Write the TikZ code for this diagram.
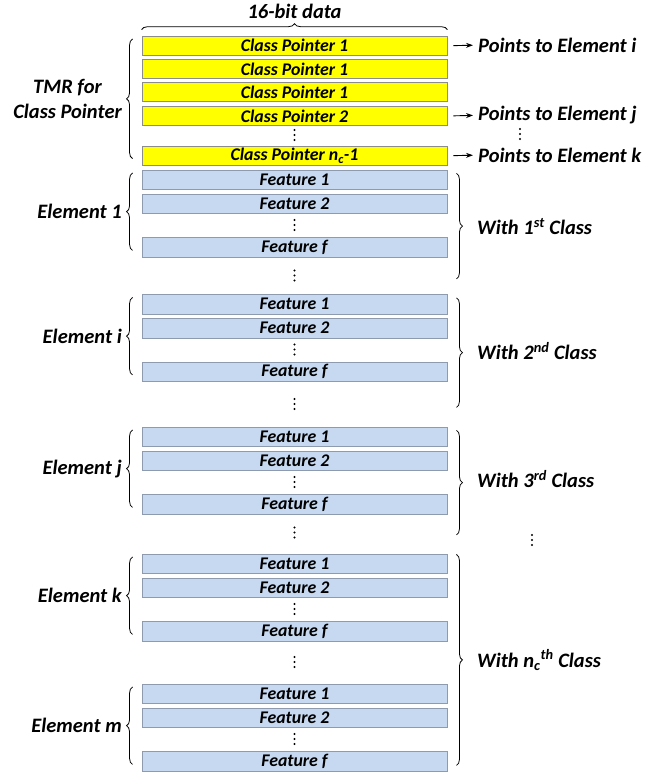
\documentclass[tikz,border=0pt]{standalone}
\usepackage{fontspec}
\setmainfont{Carlito}
\usetikzlibrary{decorations.pathreplacing,arrows.meta,calc}
\definecolor{ptrfill}{HTML}{FFFF00}
\definecolor{ptrline}{HTML}{8C8C8C}
\definecolor{featfill}{HTML}{C6D9F1}
\definecolor{featline}{HTML}{8E9BAE}
\begin{document}
\begin{tikzpicture}[x=1pt,y=-1pt,
  bigtxt/.style={font=\fontsize{20.5}{24}\selectfont\bfseries\itshape,inner sep=0pt},
  boxtxt/.style={font=\fontsize{17.8}{20}\selectfont\bfseries\itshape},
  ptrbox/.style={boxtxt,draw=ptrline,fill=ptrfill,line width=0.9pt,minimum width=305,minimum height=19,inner sep=0pt,anchor=north},
  featbox/.style={boxtxt,draw=featline,fill=featfill,line width=0.9pt,minimum width=305,minimum height=19.5,inner sep=0pt,anchor=north},
  bracel/.style={decorate,decoration={brace,amplitude=6pt},line width=0.8pt},
  ptrarrow/.style={-{Stealth[length=7pt,width=5pt]},line width=0.9pt}]
\useasboundingbox (0,0) rectangle (668,773);
\def\cx{294.5}
% --- class pointers
\node[ptrbox] (p1) at (\cx,35.7) {Class Pointer 1};
\node[ptrbox] (p2) at (\cx,59.1) {Class Pointer 1};
\node[ptrbox] (p3) at (\cx,82.5) {Class Pointer 1};
\node[ptrbox] (p4) at (\cx,105.9) {Class Pointer 2};
\node[ptrbox] (p5) at (\cx,145.7) {Class Pointer n\textsubscript{c}-1};
% top brace
\draw[bracel] ([shift={(0,-6)}]p1.north west) -- ([shift={(0,-6)}]p1.north east);
\node[bigtxt] (bits) at (\cx,11) {16-bit data};
% TMR brace
\draw[bracel] ([shift={(-9,-7)}]p5.south west) -- ([shift={(-9,3.3)}]p1.north west);
\node[bigtxt,align=center,anchor=east] (tmr) at (122,99) {TMR for\\[1pt]Class Pointer};
% pointer arrows and labels
\node[bigtxt,anchor=west] (t1) at (478,45.2) {Points to Element i};
\node[bigtxt,anchor=west] (t2) at (478,115.4) {Points to Element j};
\node[bigtxt,anchor=west] (t3) at (478,155.2) {Points to Element k};
\draw[ptrarrow] ([xshift=6]p1.east) -- ([xshift=-5]t1.west);
\draw[ptrarrow] ([xshift=6]p4.east) -- ([xshift=-5]t2.west);
\draw[ptrarrow] ([xshift=6]p5.east) -- ([xshift=-5]t3.west);
% dots
\foreach \px/\py in {\cx/135, 520/134, 532/540, \cx/275.5, \cx/404, \cx/532.5, \cx/662}{
  \foreach \dy in {-5,0,5} \fill (\px,\py+\dy) circle (1.1);
}
% --- element groups
\foreach \g/\t/\lab in {a/169.5/Element 1, i/294/Element i, j/426.5/Element j, k/553.5/Element k, m/683.5/Element m}{
  \node[featbox] (\g1) at (\cx,\t) {Feature 1};
  \node[featbox] (\g2) at (\cx,\t+24) {Feature 2};
  \node[featbox] (\g f) at (\cx,\t+67.5) {Feature f};
  \foreach \dy in {-5,0,5} \fill (\cx,\t+55.5+\dy) circle (1.1);
  \draw[bracel] ([shift={(-9,-7)}]\g f.south west) -- ([shift={(-9,3.5)}]\g1.north west);
  \node[bigtxt,anchor=east] (\g lab) at (122,\t+42.2) {\lab};
}
% right braces
\draw[bracel] ([shift={(9,3.8)}]a1.north east) -- ($(af.south east)+(9,21.5)$);
\node[bigtxt,anchor=west] (c1) at (477,226.5) {With 1\textsuperscript{st} Class};
\draw[bracel] ([shift={(9,3.8)}]i1.north east) -- ($(if.south east)+(9,25.5)$);
\node[bigtxt,anchor=west] (c2) at (477,351) {With 2\textsuperscript{nd} Class};
\draw[bracel] ([shift={(9,3.8)}]j1.north east) -- ($(jf.south east)+(9,20.5)$);
\node[bigtxt,anchor=west] (c3) at (477,479) {With 3\textsuperscript{rd} Class};
\draw[bracel] ([shift={(9,1)}]k1.north east) -- ([shift={(9,-6)}]mf.south east);
\node[bigtxt,anchor=west] (c4) at (477,660) {With n\textsubscript{c}\textsuperscript{th} Class};
\end{tikzpicture}
\end{document}
